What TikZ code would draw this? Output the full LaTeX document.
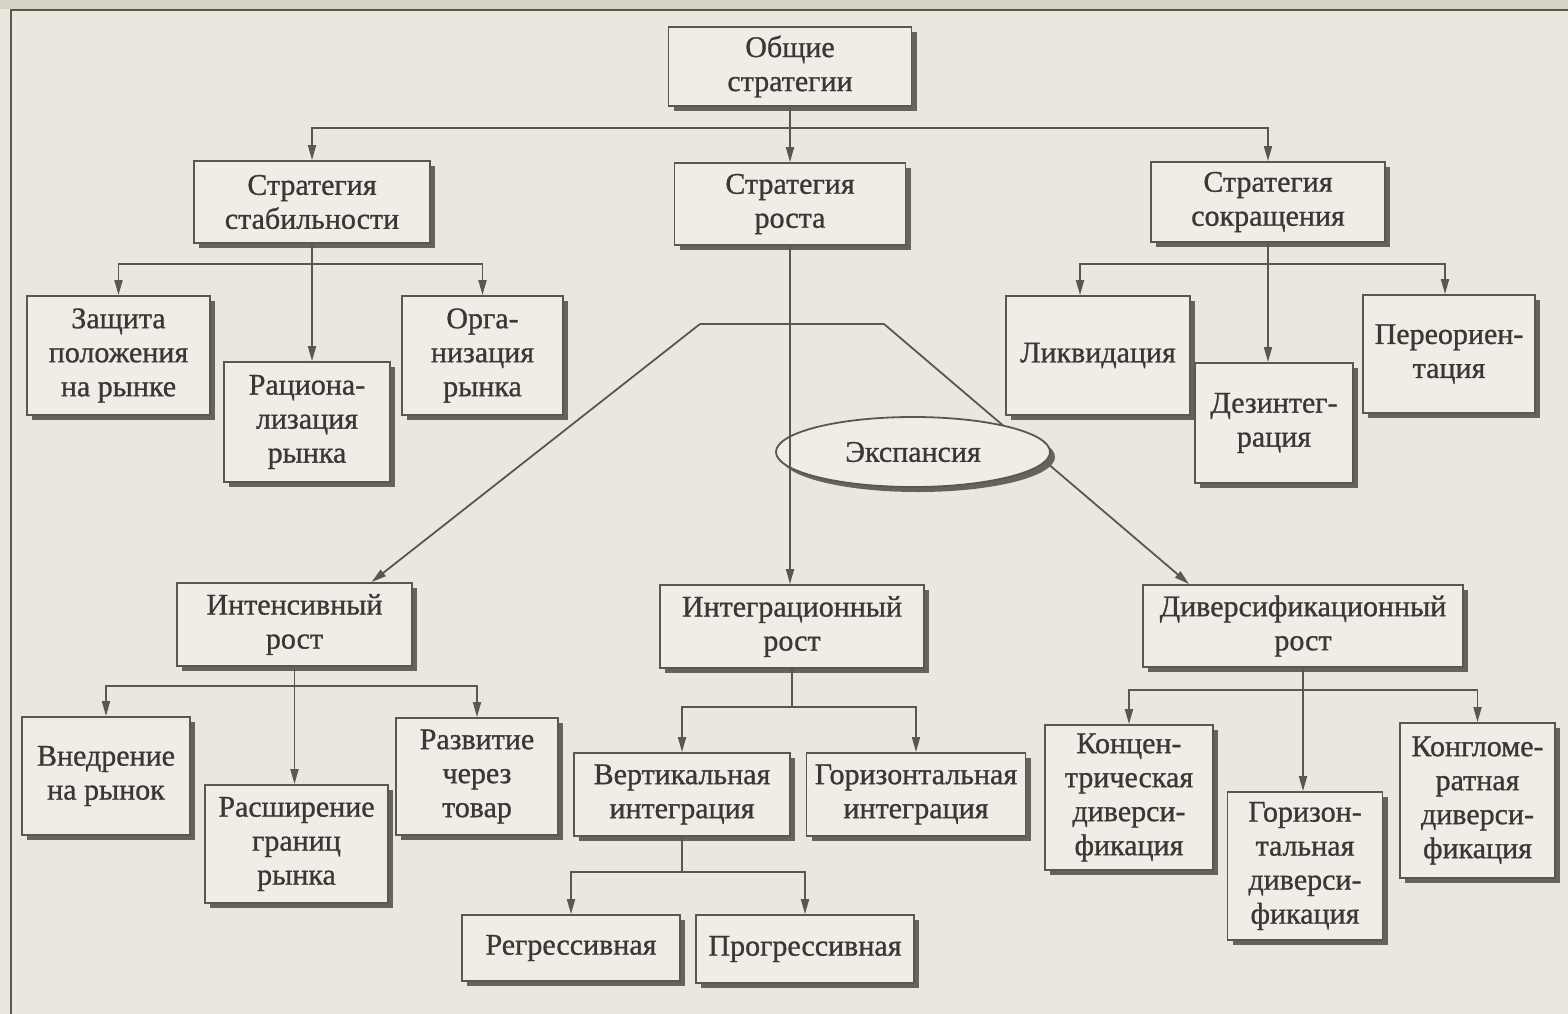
\documentclass[tikz,border=0pt]{standalone}
\usepackage{fontspec}
\setmainfont{Liberation Serif}[RawFeature={embolden=0.9}]
\usetikzlibrary{shadows,arrows.meta,shapes.geometric,calc}
\definecolor{bg}{HTML}{EAE7DE}
\definecolor{band}{HTML}{D8D1C5}
\definecolor{boxfill}{HTML}{EFEDE5}
\definecolor{ln}{HTML}{5A5753}
\definecolor{txt}{HTML}{3A3836}
\definecolor{shd}{HTML}{66625E}
\begin{document}
\begin{tikzpicture}[x=1pt,y=-1pt,
  box/.style={draw=ln, line width=1.8pt, fill=boxfill, inner sep=0pt, align=center,
    text=txt, font=\fontsize{30}{34}\selectfont,
    drop shadow={shadow xshift=5pt, shadow yshift=-5pt, fill=shd, opacity=1}},
  conn/.style={draw=ln, line width=1.8pt},
  arr/.style={conn, -{Triangle[length=15pt,width=8pt]}}]
\fill[bg] (0,0) rectangle (1568,1014);
\useasboundingbox (0,0) rectangle (1568,1014);
\fill[band] (0,0) rectangle (1568,9);
\draw[ln, line width=1.5pt] (11,1014) -- (11,10) -- (1568,10);

% level 0/1
\node[box, minimum width=243, minimum height=79] (gen) at (790,66.5) {Общие\\стратегии};
\node[box, minimum width=236, minimum height=82] (stab) at (312,202) {Стратегия\\стабильности};
\node[box, minimum width=231, minimum height=82] (rost) at (790,204) {Стратегия\\роста};
\node[box, minimum width=234, minimum height=80] (sokr) at (1268,202) {Стратегия\\сокращения};

% stability children
\node[box, minimum width=183, minimum height=119] (zash) at (118.5,355.5) {Защита\\положения\\на рынке};
\node[box, minimum width=166, minimum height=120] (rac) at (307,422) {Рациона-\\лизация\\рынка};
\node[box, minimum width=161, minimum height=119] (org) at (482.5,355.5) {Орга-\\низация\\рынка};

% reduction children
\node[box, minimum width=184, minimum height=119] (likv) at (1098,355.5) {Ликвидация};
\node[box, minimum width=158, minimum height=120] (dez) at (1274,423) {Дезинтег-\\рация};
\node[box, minimum width=172, minimum height=118] (pere) at (1449,354) {Переориен-\\тация};

% growth types
\node[box, minimum width=235, minimum height=83] (intens) at (294.5,624.5) {Интенсивный\\рост};
\node[box, minimum width=264, minimum height=83] (integ) at (792,626.5) {Интеграционный\\рост};
\node[box, minimum width=320, minimum height=82] (divers) at (1303,626) {Диверсификационный\\рост};

% intensive children
\node[box, minimum width=168, minimum height=118] (vnedr) at (106,776) {Внедрение\\на рынок};
\node[box, minimum width=183, minimum height=118] (rassh) at (296.5,844) {Расширение\\границ\\рынка};
\node[box, minimum width=162, minimum height=117] (razv) at (477,776.5) {Развитие\\через\\товар};

% integration children
\node[box, minimum width=216, minimum height=83] (vert) at (682,794.5) {Вертикальная\\интеграция};
\node[box, minimum width=219, minimum height=83] (gorint) at (916,794.5) {Горизонтальная\\интеграция};
\node[box, minimum width=218, minimum height=66] (regr) at (571,948) {Регрессивная};
\node[box, minimum width=218, minimum height=68] (progr) at (805,949) {Прогрессивная};

% diversification children
\node[box, minimum width=168, minimum height=145] (konc) at (1129,797.5) {Концен-\\трическая\\диверси-\\фикация};
\node[box, minimum width=155, minimum height=148] (gordiv) at (1305,866) {Горизон-\\тальная\\диверси-\\фикация};
\node[box, minimum width=155, minimum height=155] (kongl) at (1477.5,800.5) {Конгломе-\\ратная\\диверси-\\фикация};

% bus levels
\coordinate (L1) at (0,128);
\coordinate (L2) at (0,264);
\coordinate (L3) at (0,686);
\coordinate (L3b) at (0,707);
\coordinate (L3c) at (0,690);
\coordinate (L4) at (0,872);

% top level
\draw[arr] (gen.south |- L1) -| (stab.north);
\draw[arr] (gen.south |- L1) -| (sokr.north);
\draw[arr] (gen.south) -- (rost.north);

% stability
\draw[arr] (stab.south) -- (stab.south |- rac.north);
\draw[arr] (stab.south |- L2) -| (zash.north);
\draw[arr] (stab.south |- L2) -| (org.north);

% reduction
\draw[arr] (sokr.south) -- (sokr.south |- dez.north);
\draw[arr] (sokr.south |- L2) -| ($(likv.north)+(-18,0)$);
\draw[arr] (sokr.south |- L2) -| ($(pere.north)+(-4,0)$);

% expansion
\coordinate (t1) at (700,324);
\coordinate (t2) at (884,324);
\draw[conn] (t1) -- (t2);
\draw[arr] (t1) -- ($(intens.north)+(77,0)$);
\draw[arr] (t2) -- ($(divers.north west)+(47,0)$);
\node[box, ellipse, minimum width=274, minimum height=70] (eksp) at (913,452) {Экспансия};
\draw[arr] (rost.south) -- (rost.south |- integ.north);

% intensive
\draw[arr] (intens.south) -- (intens.south |- rassh.north);
\draw[arr] (intens.south |- L3) -| (vnedr.north);
\draw[arr] (intens.south |- L3) -| (razv.north);

% integration
\draw[conn] (integ.south) -- (integ.south |- L3b);
\draw[arr] (integ.south |- L3b) -| (vert.north);
\draw[arr] (integ.south |- L3b) -| (gorint.north);
\draw[conn] (vert.south) -- (vert.south |- L4);
\draw[arr] (vert.south |- L4) -| (regr.north);
\draw[arr] (vert.south |- L4) -| (progr.north);

% diversification
\draw[arr] (divers.south) -- (divers.south |- gordiv.north);
\draw[arr] (divers.south |- L3c) -| (konc.north);
\draw[arr] (divers.south |- L3c) -| (kongl.north);
\end{tikzpicture}
\end{document}
